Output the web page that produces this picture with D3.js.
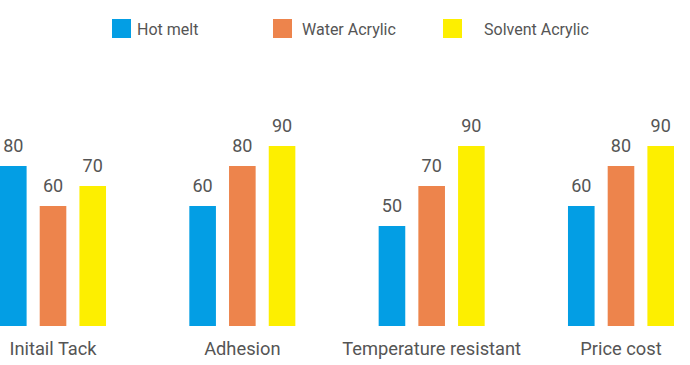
<!DOCTYPE html>
<html><head><meta charset="utf-8">
<script src="https://cdn.jsdelivr.net/npm/d3@7"></script>
<style>body{margin:0;background:#fff}svg{display:block}text{font-family:Roboto,sans-serif;fill:#555}</style>
</head><body>
<svg id="c" width="690" height="365"></svg>
<script>
const categories = ["Initail Tack", "Adhesion", "Temperature resistant", "Price cost"];
const seriesNames = ["Hot melt", "Water Acrylic", "Solvent Acrylic"];
const hotMelt = [80, 60, 50, 60];
const waterAcrylic = [60, 80, 70, 80];
const solventAcrylic = [70, 90, 90, 90];
const colors = ["#039ee4", "#ed844c", "#fdef00"];

const series = [hotMelt, waterAcrylic, solventAcrylic];
const svg = d3.select("#c");

const x0 = d3.scaleBand().domain(categories).range([0, 674]).paddingInner(0.44).paddingOuter(0);
const x1 = d3.scaleBand().domain(seriesNames).range([0, x0.bandwidth()]).paddingInner(0.33).paddingOuter(0);
const y = d3.scaleLinear().domain([0, 100]).range([326, 126]);
const color = d3.scaleOrdinal().domain(seriesNames).range(colors);

const g = svg.append("g");
const groups = g.selectAll("g.grp").data(categories).join("g")
  .attr("transform", d => `translate(${x0(d)},0)`);

groups.selectAll("rect").data((c, i) => seriesNames.map((s, k) => ({s, v: series[k][i]}))).join("rect")
  .attr("x", d => x1(d.s)).attr("width", x1.bandwidth())
  .attr("y", d => y(d.v)).attr("height", d => y(0) - y(d.v))
  .attr("fill", d => color(d.s));

groups.selectAll("text.val").data((c, i) => seriesNames.map((s, k) => ({s, v: series[k][i]}))).join("text")
  .attr("class", "val")
  .attr("x", d => x1(d.s) + x1.bandwidth() / 2).attr("y", d => y(d.v) - 14)
  .attr("text-anchor", "middle").style("font-size", "18px")
  .text(d => d.v);

// category axis labels
const xAxis = d3.axisBottom(x0).tickSize(0).tickPadding(0);
const ax = svg.append("g").attr("transform", "translate(0,355)").call(xAxis);
ax.select(".domain").remove();
ax.selectAll("text").attr("y", 0).attr("dy", 0).style("font-size", "18.3px").style("fill", "#555").style("font-family", "Roboto, sans-serif");

// legend
const legendX = [112, 273, 443];
const legendTextX = [137, 302, 484];
const lg = svg.append("g");
seriesNames.forEach((s, i) => {
  lg.append("rect").attr("x", legendX[i]).attr("y", 19).attr("width", 19).attr("height", 19).attr("fill", color(s));
  lg.append("text").attr("x", legendTextX[i]).attr("y", 35).style("font-size", "16px").text(s);
});
</script>
</body></html>
